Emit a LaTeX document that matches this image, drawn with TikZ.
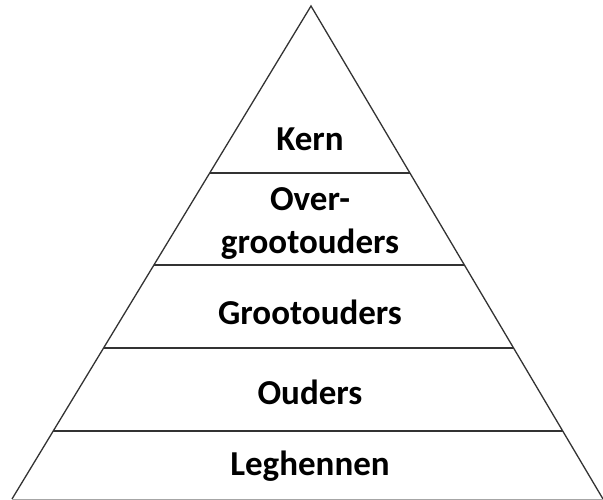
\documentclass[tikz,border=0pt]{standalone}
\usepackage{fontspec}
\setmainfont{Carlito}
\usetikzlibrary{calc}
\begin{document}
\begin{tikzpicture}[x=1pt,y=-1pt,
  lvl/.style={font=\bfseries\fontsize{35}{43}\selectfont, align=center, inner sep=0pt},
  edge/.style={draw=black!80, line width=1.3pt}]
\useasboundingbox (0,0) rectangle (603,500);
\coordinate (apex) at (311,6);
\coordinate (bl) at (12,499);
\coordinate (br) at (603,499);
\draw[edge, line join=miter] (bl) -- (apex) -- (br);
\draw[draw=black!35, line width=1pt] (bl) -- (br);
\foreach \y/\n in {173/a,265/b,348/c,431/d}{
  \draw[edge] ($(apex)!{(\y-6)/493}!(bl)$) coordinate (l\n) -- ($(apex)!{(\y-6)/493}!(br)$) coordinate (r\n);
}
\node[lvl] (kern) at (310,139) {Kern};
\node[lvl] (over) at (310,223) {Over-\\grootouders};
\node[lvl] (groot) at (310,312) {Grootouders};
\node[lvl] (ouders) at (310,392) {Ouders};
\node[lvl] (leg) at (310,466) {Leghennen};
\end{tikzpicture}
\end{document}
